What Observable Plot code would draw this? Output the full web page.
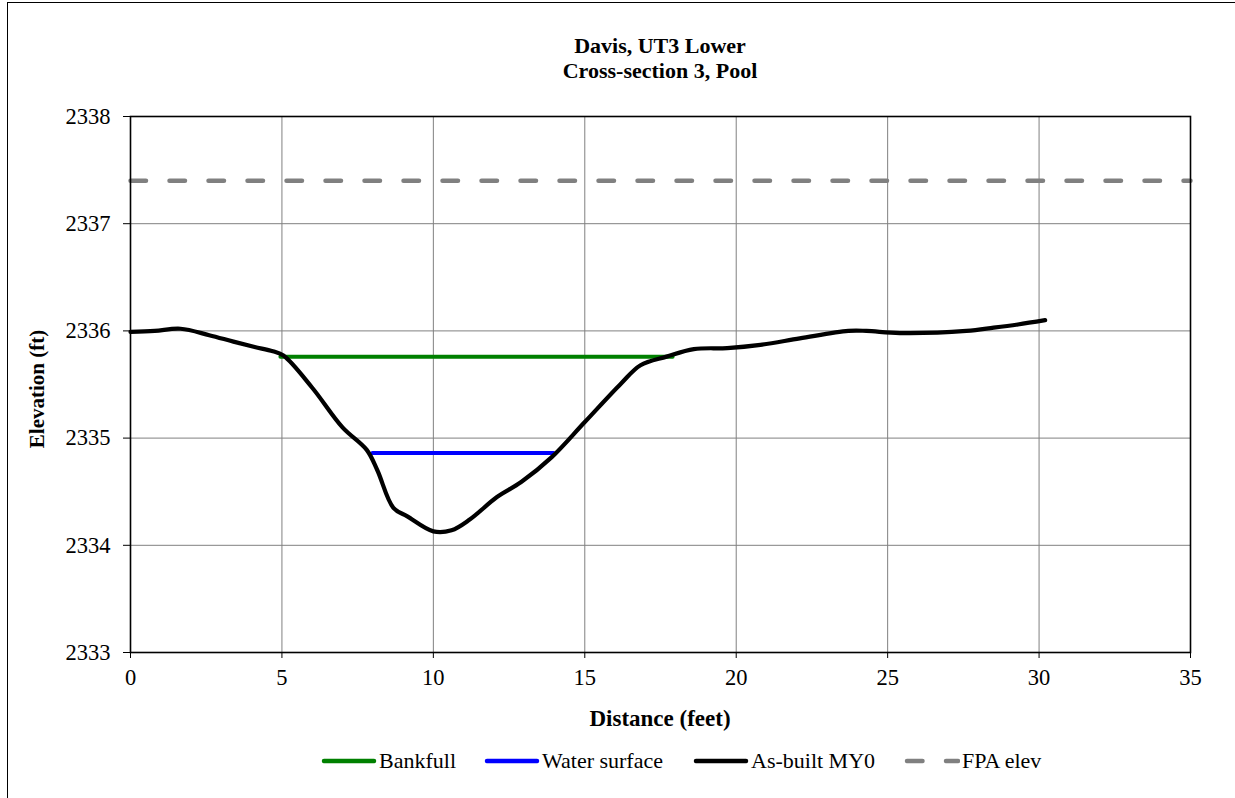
<!DOCTYPE html>
<html><head><meta charset="utf-8">
<script src="https://cdn.jsdelivr.net/npm/d3@7"></script>
<script src="https://cdn.jsdelivr.net/npm/@observablehq/plot@0.6"></script>
<style>
html,body{margin:0;padding:0;background:#fff;overflow:hidden;width:1235px;height:798px}
#wrap{position:relative;width:1235px;height:798px;font-family:"Liberation Serif","Times New Roman",serif;color:#000}
#border{position:absolute;left:7px;top:2px;width:1300px;height:900px;border-left:1.5px solid #000;border-top:1.5px solid #000;box-sizing:border-box}
#chart{position:absolute;left:0;top:0}
#title{position:absolute;left:130px;width:1060px;top:33px;text-align:center;font-weight:bold;font-size:22px;line-height:25px}
#xlabel{position:absolute;left:130px;width:1060px;top:705px;text-align:center;font-weight:bold;font-size:23px;line-height:28px}
#ylabel{position:absolute;left:37px;top:389px;transform:translate(-50%,-50%) rotate(-90deg);font-weight:bold;font-size:21px;line-height:26px;white-space:nowrap}
#legend{position:absolute;left:0;top:749px;width:1235px;height:26px;font-size:22px;line-height:24px;white-space:nowrap}
.item{position:absolute;top:0;display:flex;align-items:center}
.item svg{margin-right:2px}
</style>
</head><body>
<div id="wrap">
  <div id="border"></div>
  <div id="chart"></div>
  <div id="title"></div>
  <div id="xlabel"></div>
  <div id="ylabel"></div>
  <div id="legend"></div>
</div>
<script>
// ---- data ----
const titleLines = ["Davis, UT3 Lower", "Cross-section 3, Pool"];
const xTitle = "Distance (feet)";
const yTitle = "Elevation (ft)";
const xTicks = [0, 5, 10, 15, 20, 25, 30, 35];
const yTicks = [2333, 2334, 2335, 2336, 2337, 2338];

const asBuiltX = [0, 0.8, 1.65, 2.6, 3.4, 4.1, 4.7, 5.05, 6.0, 7.0, 7.8, 8.15, 8.68, 9.14, 10.0, 10.6, 11.2, 12.1, 12.9, 13.9, 15.0, 16.2, 16.84, 17.7, 18.6, 19.7, 20.8, 22.1, 23.7, 24.3, 25.4, 27.6, 28.5, 29.3, 30.2];
const asBuiltY = [2335.99, 2336.0, 2336.02, 2335.96, 2335.9, 2335.85, 2335.81, 2335.77, 2335.47, 2335.1, 2334.89, 2334.7, 2334.35, 2334.27, 2334.13, 2334.14, 2334.24, 2334.45, 2334.59, 2334.82, 2335.15, 2335.51, 2335.68, 2335.76, 2335.83, 2335.84, 2335.87, 2335.93, 2336.0, 2336.0, 2335.98, 2336.0, 2336.03, 2336.06, 2336.1];

const bankfullX = [4.95, 17.9];
const bankfullY = [2335.76, 2335.76];
const waterX = [7.99, 13.97];
const waterY = [2334.86, 2334.86];
const fpaX = [0, 35];
const fpaY = [2337.40, 2337.40];

const seriesNames = ["Bankfull", "Water surface", "As-built MY0", "FPA elev"];
const seriesColors = ["#008000", "#0000ff", "#000000", "#808080"];
const fpaDash = "15.5,23.5";

// ---- build ----
const zip = (xs, ys) => xs.map((x, i) => ({x, y: ys[i]}));
const asBuilt = zip(asBuiltX, asBuiltY);
const bankfull = zip(bankfullX, bankfullY);
const water = zip(waterX, waterY);
const fpa = zip(fpaX, fpaY);

const plot = Plot.plot({
  width: 1235,
  height: 798,
  marginLeft: 130,
  marginRight: 45,
  marginTop: 116,
  marginBottom: 146,
  style: {fontFamily: "'Liberation Serif','Times New Roman',serif", fontSize: "22px", color: "#000", background: "transparent"},
  x: {domain: [0, 35], ticks: xTicks},
  y: {domain: [2333, 2338], ticks: yTicks},
  marks: [
    Plot.gridX(xTicks, {stroke: "#808080", strokeOpacity: 1, strokeWidth: 1}),
    Plot.gridY(yTicks, {stroke: "#808080", strokeOpacity: 1, strokeWidth: 1}),
    Plot.line(fpa, {x: "x", y: "y", stroke: seriesColors[3], strokeWidth: 4.5, strokeDasharray: fpaDash, strokeLinecap: "round"}),
    Plot.line(bankfull, {x: "x", y: "y", stroke: seriesColors[0], strokeWidth: 4}),
    Plot.line(water, {x: "x", y: "y", stroke: seriesColors[1], strokeWidth: 4}),
    Plot.line(asBuilt, {x: "x", y: "y", stroke: seriesColors[2], strokeWidth: 4.2, curve: "catmull-rom", strokeLinejoin: "round", strokeLinecap: "round"}),
    Plot.frame({stroke: "#000", strokeWidth: 1.6}),
    Plot.axisX(xTicks, {tickSize: 6, tickPadding: 11, label: null, tickFormat: d => String(d), fontSize: 22.5}),
    Plot.axisY(yTicks, {tickSize: 7, tickPadding: 13, label: null, tickFormat: d => String(d), fontSize: 22.5})
  ]
});
document.getElementById("chart").appendChild(plot);

document.getElementById("title").innerHTML = titleLines.map(t => `<div>${t}</div>`).join("");
document.getElementById("xlabel").textContent = xTitle;
document.getElementById("ylabel").textContent = yTitle;

// legend item left edges (layout)
const legendLeft = [321, 484, 693, 904];
const legend = document.getElementById("legend");
seriesNames.forEach((name, i) => {
  const dashed = i === 3;
  const item = document.createElement("div");
  item.className = "item";
  item.style.left = legendLeft[i] + "px";
  item.innerHTML = `<svg width="56" height="10"><line x1="3" y1="5" x2="${dashed ? 54 : 53}" y2="5" stroke="${seriesColors[i]}" stroke-width="4.5" stroke-linecap="round" ${dashed ? `stroke-dasharray="${fpaDash}"` : ""}/></svg><span>${name}</span>`;
  legend.appendChild(item);
});
</script>
</body></html>
